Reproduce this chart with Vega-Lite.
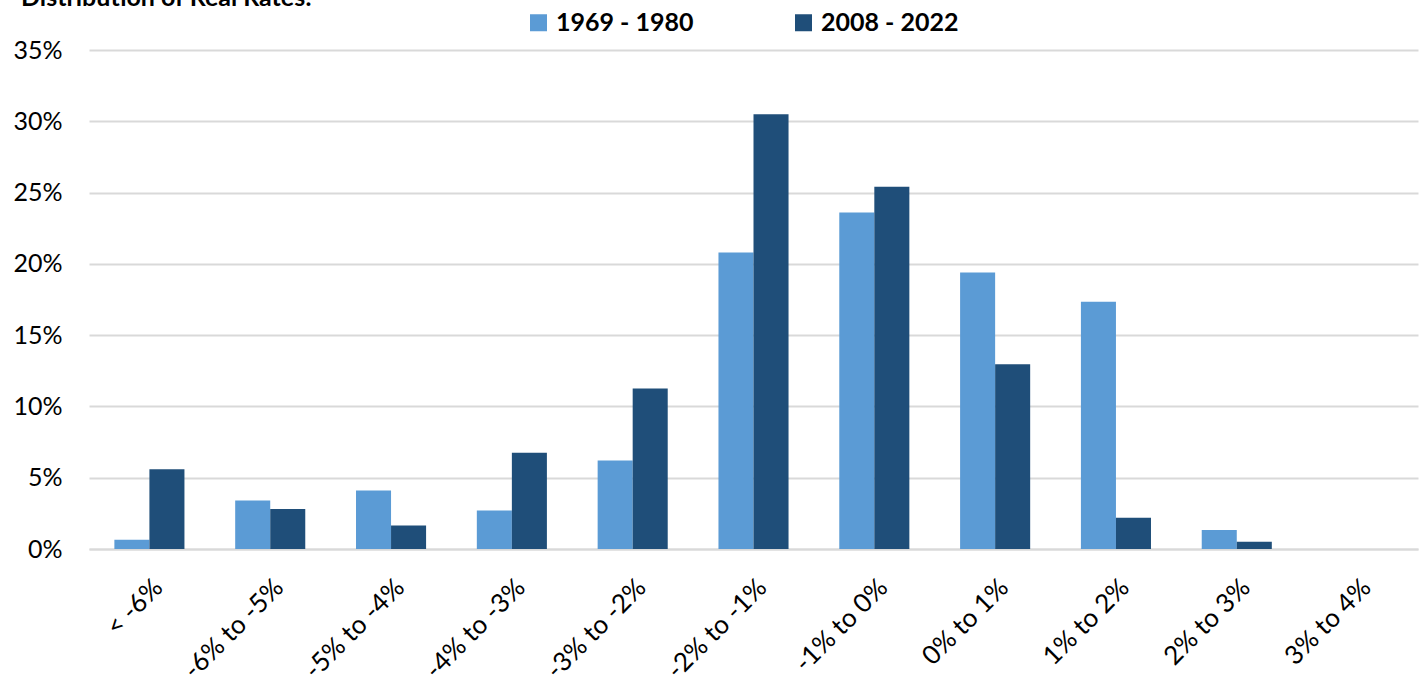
{
  "$schema": "https://vega.github.io/schema/vega-lite/v6.json",
  "autosize": "none",
  "width": 1329,
  "height": 499,
  "padding": {"left": 89, "top": 50, "right": 3, "bottom": 136},
  "background": "white",
  "title": {
    "text": "Distribution of Real Rates:",
    "anchor": "start",
    "frame": "group",
    "dx": -68,
    "offset": -1,
    "font": "Lato",
    "fontSize": 25,
    "fontWeight": "bold",
    "color": "#000000"
  },
  "data": {
    "values": [
      {"bucket": "< -6%", "period": "1969 - 1980", "share": 0.0065},
      {"bucket": "< -6%", "period": "2008 - 2022", "share": 0.056},
      {"bucket": "-6%  to -5%", "period": "1969 - 1980", "share": 0.034},
      {"bucket": "-6%  to -5%", "period": "2008 - 2022", "share": 0.028},
      {"bucket": "-5% to -4%", "period": "1969 - 1980", "share": 0.041},
      {"bucket": "-5% to -4%", "period": "2008 - 2022", "share": 0.0165},
      {"bucket": "-4% to -3%", "period": "1969 - 1980", "share": 0.027},
      {"bucket": "-4% to -3%", "period": "2008 - 2022", "share": 0.0675},
      {"bucket": "-3% to -2%", "period": "1969 - 1980", "share": 0.062},
      {"bucket": "-3% to -2%", "period": "2008 - 2022", "share": 0.1125},
      {"bucket": "-2% to -1%", "period": "1969 - 1980", "share": 0.208},
      {"bucket": "-2% to -1%", "period": "2008 - 2022", "share": 0.305},
      {"bucket": "-1% to 0%", "period": "1969 - 1980", "share": 0.236},
      {"bucket": "-1% to 0%", "period": "2008 - 2022", "share": 0.254},
      {"bucket": "0% to 1%", "period": "1969 - 1980", "share": 0.194},
      {"bucket": "0% to 1%", "period": "2008 - 2022", "share": 0.1295},
      {"bucket": "1% to 2%", "period": "1969 - 1980", "share": 0.1735},
      {"bucket": "1% to 2%", "period": "2008 - 2022", "share": 0.022},
      {"bucket": "2% to 3%", "period": "1969 - 1980", "share": 0.0133},
      {"bucket": "2% to 3%", "period": "2008 - 2022", "share": 0.0051},
      {"bucket": "3% to 4%", "period": "1969 - 1980", "share": 0},
      {"bucket": "3% to 4%", "period": "2008 - 2022", "share": 0}
    ]
  },
  "mark": {"type": "bar"},
  "encoding": {
    "x": {
      "field": "bucket",
      "type": "nominal",
      "sort": null,
      "title": null,
      "scale": {"paddingInner": 0.42, "paddingOuter": 0.21},
      "axis": {
        "labelAngle": -45,
        "labelFont": "Lato",
        "labelFontSize": 26,
        "labelColor": "#000000",
        "labelPadding": 25,
        "ticks": false,
        "domain": true,
        "domainColor": "#d9d9d9",
        "domainWidth": 2,
        "grid": false
      }
    },
    "xOffset": {
      "field": "period",
      "type": "nominal",
      "scale": {"paddingInner": 0, "paddingOuter": 0}
    },
    "y": {
      "field": "share",
      "type": "quantitative",
      "title": null,
      "scale": {"domain": [0, 0.35], "nice": false},
      "axis": {
        "format": ".0%",
        "values": [0, 0.05, 0.1, 0.15, 0.2, 0.25, 0.3, 0.35],
        "labelFont": "Lato",
        "labelFontSize": 25,
        "labelColor": "#000000",
        "labelPadding": 27,
        "ticks": false,
        "domain": false,
        "gridColor": "#d9d9d9",
        "gridWidth": 2
      }
    },
    "color": {
      "field": "period",
      "type": "nominal",
      "title": null,
      "scale": {"domain": ["1969 - 1980", "2008 - 2022"], "range": ["#5b9bd5", "#1f4e79"]},
      "legend": {
        "orient": "none",
        "direction": "horizontal",
        "legendX": 437,
        "legendY": -40,
        "symbolType": "square",
        "symbolSize": 289,
        "symbolStrokeWidth": 0,
        "labelFont": "Lato",
        "labelFontSize": 25,
        "labelFontWeight": "bold",
        "labelColor": "#000000",
        "labelOffset": 5,
        "columnPadding": 97
      }
    }
  },
  "config": {"view": {"stroke": null}}
}
